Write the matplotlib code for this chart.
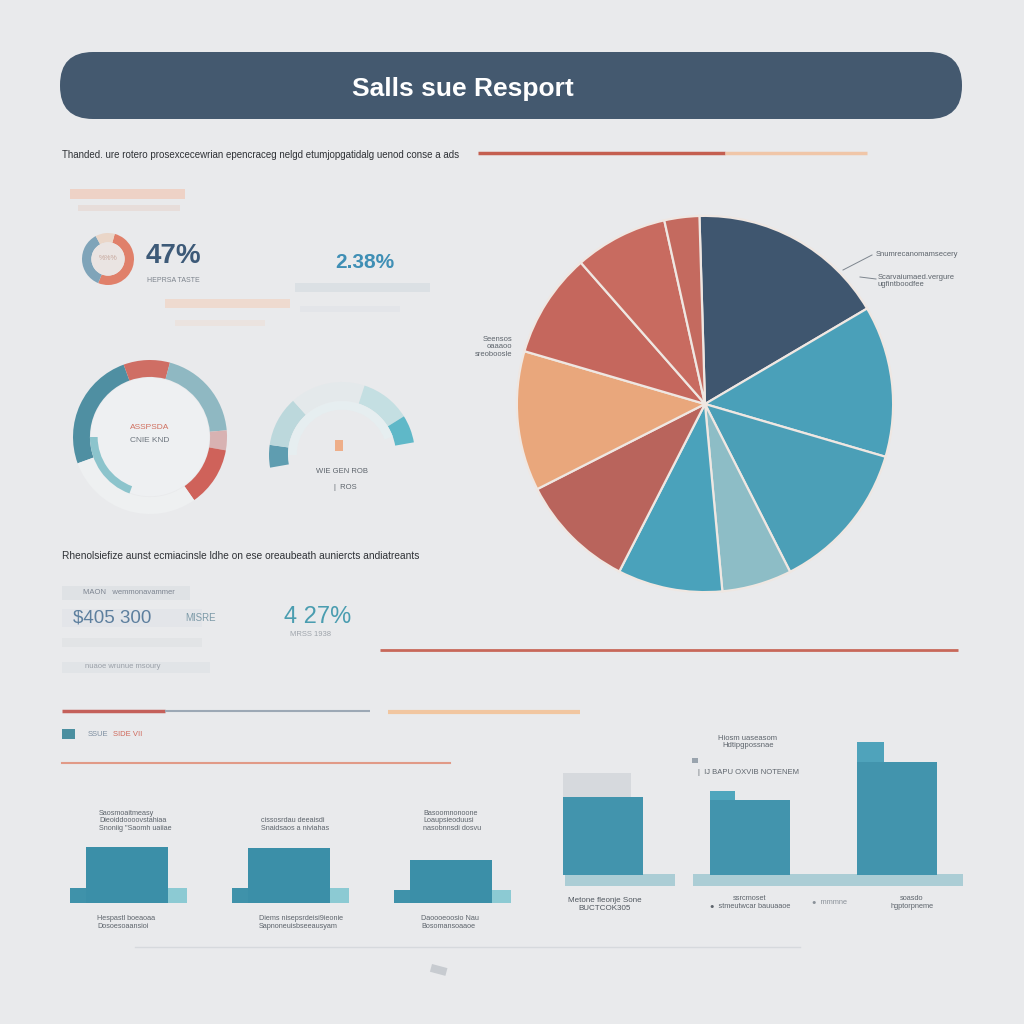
import matplotlib.pyplot as plt
import numpy as np
from matplotlib.patches import FancyBboxPatch, Rectangle, Circle

W = H = 1024
BG = "#e9eaec"
plt.rcParams["font.family"] = ["Liberation Sans", "DejaVu Sans"]

# ------------------------------
# data
# ------------------------------
title = "Salls sue Resport"
intro_text = ("Thanded. ure rotero prosexcecewrian epencraceg nelgd "
              "etumjopgatidalg uenod conse a ads")
mid_text = ("Rhenolsiefize aunst ecmiacinsle ldhe on ese oreaubeath "
            "auniercts andiatreants")

kpi_main = "47%"
kpi_main_sub = "HEPRSA TASTE"
kpi_second = "2.38%"
kpi_money = "$405 300"
kpi_money_tag = "MISRE"
kpi_rate = "4 27%"
kpi_rate_sub = "MRSS 1938"

pie_values = [17, 13, 13, 6, 9, 10, 12, 9, 8, 3]
pie_colors = ["#3f566f", "#4aa0b9", "#4b9fb7", "#8dbdc6", "#4aa2bb",
              "#b9645c", "#e9a77c", "#c5675d", "#c86b60", "#c46a5f"]

donut_values = [52, 36, 12]
donut_colors = ["#e0806a", "#7fa4b9", "#ead6c8"]

gauge_left_values = [90, 35, 70, 15, 45, 105]
gauge_left_colors = ["#4f8fa2", "#cf6e64", "#8fb8c2", "#d8b2b2", "#cf625a", "#eef0f1"]
gauge_right_values = [18, 40, 60, 40, 22, 180]
gauge_right_colors = ["#5f9db0", "#bcd8dc", "#e4e9eb", "#c4dfe2", "#5fb8c8", "none"]

small_groups = ["A", "B", "C"]
small_main = [56, 55, 43]
small_base = [15, 15, 13]
small_top_labels = ["Saosmoaitmeasy\nDieoiddoooovstahiaa\nSnoniig \"Saomh uaiiae",
                    "cissosrdau deeaisdi\nSnaidsaos a niviahas",
                    "Basoomnonoone\nLoaupsieoduusi\nnasobnnsdi dosvu"]
small_bottom_labels = ["Hespastl boeaoaa\nDosoesoaansioi",
                       "Diems nisepsrdeisi9ieonie\nSapnoneuisbseeausyam",
                       "Daoooeoosio Nau\nBosomansoaaoe"]

big_groups = ["A", "B", "C"]
big_main = [78, 75, 113]
big_back = [102, 84, 133]
big_back_width = [0.46, 0.17, 0.18]
big_back_colors = ["#d6d9dd", "#4fa6bd", "#4fa3bb"]


def px_axes(fig, x0, y0, x1, y1):
    ax = fig.add_axes([x0 / W, 1 - y1 / H, (x1 - x0) / W, (y1 - y0) / H])
    ax.set_facecolor("none")
    return ax


fig = plt.figure(figsize=(10.24, 10.24), dpi=100, facecolor=BG)
bg = fig.add_axes([0, 0, 1, 1])
bg.set_xlim(0, W)
bg.set_ylim(H, 0)
bg.axis("off")

# ------------------------------
# banner
# ------------------------------
bg.add_patch(FancyBboxPatch((60, 52), 902, 67, boxstyle="round,pad=0,rounding_size=33",
                            fc="#44596f", ec="none"))
bg.text(463, 89, title, color="white", fontsize=19, fontweight="bold",
        ha="center", va="center")

# ------------------------------
# decorative lines and faded blocks
# ------------------------------
bg.text(62, 155, intro_text, fontsize=7, color="#2f3236", va="center")
bg.plot([478, 725], [153, 153], color="#c45f50", lw=2.5, solid_capstyle="butt")
bg.plot([725, 867], [153, 153], color="#f0c6a8", lw=2.5, solid_capstyle="butt")

faded = [((70, 189, 115, 10), "#f2c3ad", 0.6), ((78, 205, 102, 6), "#e6d2c9", 0.5),
         ((165, 299, 125, 9), "#f4cbb3", 0.5), ((175, 320, 90, 6), "#efd9cc", 0.4),
         ((295, 283, 135, 9), "#d6dce2", 0.7), ((300, 306, 100, 6), "#dfe3e7", 0.6),
         ((62, 586, 128, 14), "#dcdfe3", 0.7), ((62, 609, 140, 18), "#e0e3e7", 0.6),
         ((62, 638, 140, 9), "#dcdfe2", 0.5), ((62, 662, 148, 11), "#dde0e4", 0.6)]
for (x, y, w, h), c, a in faded:
    bg.add_patch(Rectangle((x, y), w, h, fc=c, ec="none", alpha=a))

bg.text(83, 593, "MAON   wemmonavammer", fontsize=5.5, color="#7c8490", va="center")
bg.text(85, 667, "nuaoe wrunue msoury", fontsize=5.5, color="#9aa0a8", va="center")

bg.text(62, 556, mid_text, fontsize=7.3, color="#2f3236", va="center")
bg.plot([380, 958], [650, 650], color="#c8685a", lw=2, solid_capstyle="butt")
bg.plot([62, 165], [711, 711], color="#c4605a", lw=2.5, solid_capstyle="butt")
bg.plot([165, 370], [711, 711], color="#9ca8b5", lw=1.5, solid_capstyle="butt")
bg.plot([388, 580], [712, 712], color="#f1c6a0", lw=3, solid_capstyle="butt")
bg.add_patch(Rectangle((62, 729), 13, 10, fc="#4b8fa0", ec="none"))
bg.text(88, 734, "SSUE", fontsize=5.5, color="#7d8ea0", va="center")
bg.text(113, 734, "SIDE VII", fontsize=5.5, color="#d06a5c", va="center")
bg.plot([62, 450], [763, 763], color="#e0866e", lw=1.5, alpha=0.8)
bg.plot([135, 800], [947, 947], color="#d6d9dd", lw=1)
bg.add_patch(Rectangle((432, 964), 16, 8, fc="#c7cbd0", ec="none", angle=15))

# ------------------------------
# KPI texts
# ------------------------------
bg.text(146, 256, kpi_main, fontsize=20, fontweight="bold", color="#3d5a78", va="center")
bg.text(147, 280, kpi_main_sub, fontsize=5, color="#7b828b", va="center")
bg.text(335, 262, kpi_second, fontsize=15, fontweight="bold", color="#3f8fb5", va="center")
bg.text(73, 618, kpi_money, fontsize=13.5, color="#5d7f9e", va="center")
bg.text(185, 618, kpi_money_tag, fontsize=7, color="#7c9aa8", va="center")
bg.text(284, 617, kpi_rate, fontsize=17, color="#4a9db0", va="center")
bg.text(290, 634, kpi_rate_sub, fontsize=5.5, color="#9ea4ab", va="center")

# small donut
ax_d = px_axes(fig, 82, 233, 134, 285)
ax_d.pie(donut_values, colors=donut_colors, startangle=75, counterclock=False,
         wedgeprops=dict(width=0.36, edgecolor="none"))
ax_d.add_patch(Circle((0, 0), 0.64, fc="#eae4e2", ec="none"))
ax_d.set_xlim(-1, 1)
ax_d.set_ylim(-1, 1)
ax_d.text(0, 0, "%%%", fontsize=5, color="#c6a79c", ha="center", va="center")

# ------------------------------
# gauges
# ------------------------------
ax_g1 = px_axes(fig, 73, 360, 227, 514)
ax_g1.add_patch(Circle((0, 0), 0.77, fc="#eef0f2", ec="none"))
ax_g1.pie(gauge_left_values, colors=gauge_left_colors, startangle=200, counterclock=False,
          wedgeprops=dict(width=0.22, edgecolor="none"))
ax_g1.pie([70, 290], colors=["#8cc4cc", "none"], startangle=250, counterclock=False,
          radius=0.78, wedgeprops=dict(width=0.1, edgecolor="none"))
ax_g1.set_xlim(-1, 1)
ax_g1.set_ylim(-1, 1)
ax_g1.text(0, 0.12, "ASSPSDA", fontsize=6, color="#d0705f", ha="center", va="center")
ax_g1.text(0, -0.05, "CNIE KND", fontsize=6, color="#6d757e", ha="center", va="center")

ax_g2 = px_axes(fig, 269, 382, 415, 528)
ax_g2.pie(gauge_right_values, colors=gauge_right_colors, startangle=190, counterclock=False,
          wedgeprops=dict(width=0.26, edgecolor="none"))
ax_g2.pie([160, 200], colors=["#e6eef0", "none"], startangle=180, counterclock=False,
          radius=0.74, wedgeprops=dict(width=0.12, edgecolor="none"))
ax_g2.set_xlim(-1, 1)
ax_g2.set_ylim(-1, 1)
ax_g2.add_patch(Rectangle((-0.1, 0.05), 0.12, 0.16, fc="#f0a070", ec="none", alpha=0.8))
ax_g2.text(0, -0.22, "WIE GEN ROB", fontsize=5.5, color="#5d646c", ha="center", va="center")
ax_g2.text(0.05, -0.45, "|  ROS", fontsize=5.5, color="#5d646c", ha="center", va="center")

# ------------------------------
# main pie
# ------------------------------
ax_p = px_axes(fig, 515, 214, 895, 594)
ax_p.pie(pie_values, colors=pie_colors, startangle=91.7, counterclock=False,
         wedgeprops=dict(edgecolor="#efe7e2", linewidth=1.6))
ax_p.set_xlim(-1.01, 1.01)
ax_p.set_ylim(-1.01, 1.01)

bg.text(775, 287, "3%", fontsize=24, color="white", ha="center", va="center")
bg.text(582, 321, "5 10%\n2.0%%", fontsize=6, color="white", ha="center", va="center",
        linespacing=1.0)
bg.text(790, 384, "9%%", fontsize=7, color="#d7eef4", ha="center", va="center")
bg.text(560, 433, "Wfo%\nus.0d%%", fontsize=5.5, color="#fbe6d8", ha="center", va="center",
        linespacing=1.0)
bg.text(670, 549, "Ul%%\nus.anfdu", fontsize=6, color="#e6f4f8", ha="center", va="center",
        linespacing=1.0)
bg.plot([843, 872], [270, 255], color="#7d858e", lw=0.7)
bg.text(876, 254, "Snumrecanomamsecery", fontsize=5.5, color="#5d646c", va="center")
bg.plot([860, 876], [277, 279], color="#7d858e", lw=0.7)
bg.text(878, 281, "Scarvaiumaed.vergure\nugfintboodfee", fontsize=5.5, color="#5d646c",
        va="center", linespacing=1.0)
bg.text(512, 347, "Seensos\noaaaoo\nsreoboosle", fontsize=5.5, color="#5d646c",
        ha="right", va="center", linespacing=1.1)

# ------------------------------
# small bar groups (bottom left)
# ------------------------------
ax_s = px_axes(fig, 46, 780, 532, 903)
xs = np.arange(len(small_groups))
ax_s.bar(xs - 0.35, small_base, width=0.72, align="edge", color="#8ccad3")
ax_s.bar(xs - 0.35, small_base, width=0.6, align="edge", color="#3f92aa")
ax_s.bar(xs, small_main, width=0.51, color="#3b8fa8")
ax_s.set_xlim(-0.5, 2.5)
ax_s.set_ylim(0, 123)
ax_s.axis("off")
for x, top, bottom in zip([127, 289, 451], small_top_labels, small_bottom_labels):
    bg.text(x - 28, 832, top, fontsize=5.2, color="#5d646c", va="bottom", linespacing=1.1)
    bg.text(x - 30, 915, bottom, fontsize=5.2, color="#5d646c", va="top", linespacing=1.1)

# ------------------------------
# big bars (bottom right)
# ------------------------------
ax_b = px_axes(fig, 529.5, 730, 970.5, 875)
xb = np.arange(len(big_groups))
ax_b.bar(xb - 0.27, big_back, width=big_back_width, align="edge", color=big_back_colors)
ax_b.bar(xb, big_main, width=0.54, color="#4294ad")
ax_b.set_xlim(-0.5, 2.5)
ax_b.set_ylim(0, 145)
ax_b.axis("off")
bg.add_patch(Rectangle((565, 874), 110, 12, fc="#abcdd5", ec="none"))
bg.add_patch(Rectangle((693, 874), 270, 12, fc="#abcdd5", ec="none"))
bg.text(748, 742, "Hiosm uaseasom\nHdtipgpossnae", fontsize=5.5, color="#5d646c",
        ha="center", va="center", linespacing=1.1)
bg.add_patch(Rectangle((692, 758), 6, 5, fc="#9aa4ae", ec="none"))
bg.text(698, 773, "|  IJ BAPU OXVIB NOTENEM", fontsize=5.5, color="#5d646c", va="center")
bg.text(605, 904, "Metone fleonje Sone\nBUCTCOK305", fontsize=5.8, color="#4f565e",
        ha="center", va="center", linespacing=1.2)
bg.text(750, 903, "ssrcmoset\n\u25cf  stmeutwcar bauuaaoe", fontsize=5.3, color="#5d646c",
        ha="center", va="center", linespacing=1.2)
bg.text(830, 903, "\u25cf  mmmne", fontsize=5.3, color="#8a9199", ha="center", va="center")
bg.text(912, 903, "soasdo\nhgptorpneme", fontsize=5.3, color="#5d646c",
        ha="center", va="center", linespacing=1.2)

fig.savefig("out.png", dpi=100, facecolor=BG)
plt.close(fig)
